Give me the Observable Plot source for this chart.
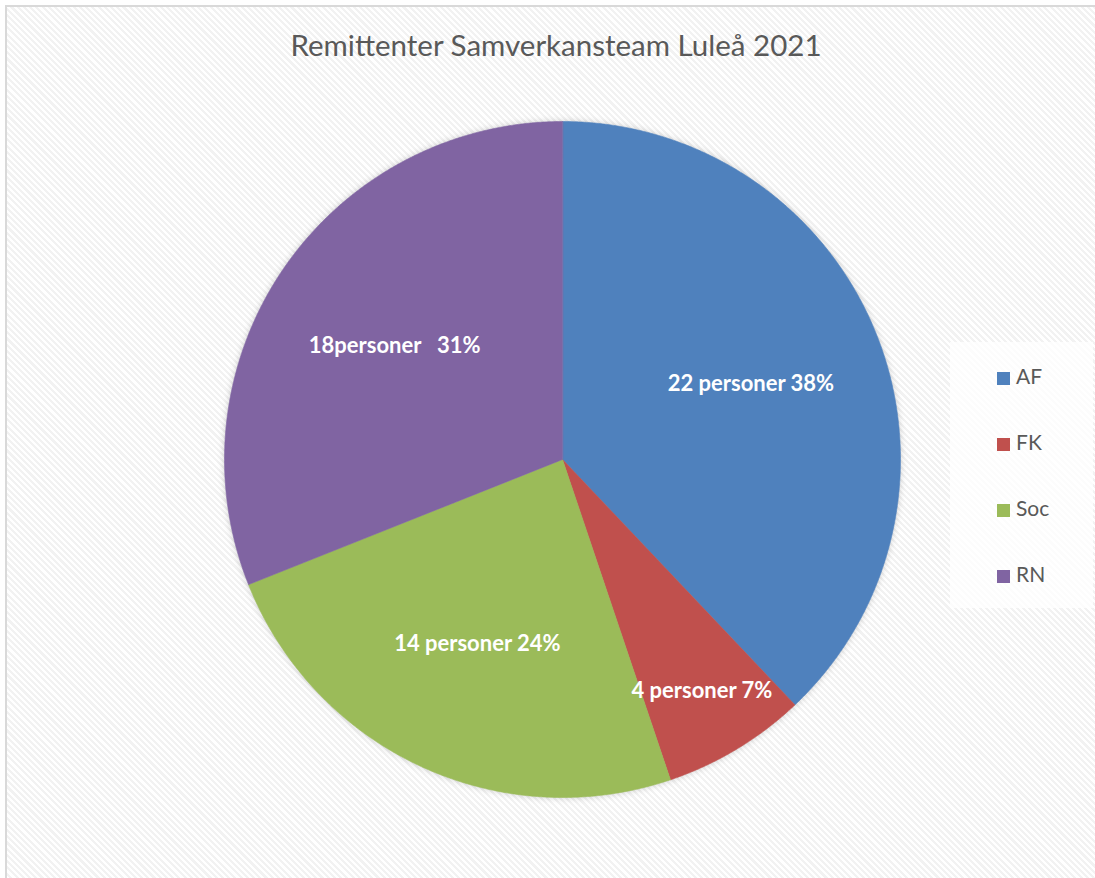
<!DOCTYPE html>
<html>
<head>
<meta charset="utf-8">
<script src="https://cdn.jsdelivr.net/npm/d3@7"></script>
<script src="https://cdn.jsdelivr.net/npm/@observablehq/plot@0.6"></script>
<style>
  html, body { margin: 0; padding: 0; width: 1095px; height: 878px; overflow: hidden; background: #fff; }
  #frame {
    position: absolute; left: 5px; top: 5px; width: 1110px; height: 890px;
    border-top: 2px solid #d9d9d9; border-left: 2px solid #d9d9d9;
    background: repeating-linear-gradient(45deg, #ffffff 0px, #ffffff 2.2px, #f2f2f2 2.2px, #f2f2f2 4.4px);
  }
  #title {
    position: absolute; left: 0; width: 1112px; top: 30px; text-align: center;
    font-family: Lato, "Open Sans", sans-serif; font-size: 29.5px; color: #595959; line-height: 1;
  }
  #chart { position: absolute; left: 0; top: 0; }
  #chart svg text { white-space: pre; }
  #chart svg g[aria-label="line"] { filter: drop-shadow(0 0 3px rgba(0,0,0,0.18)); }
  #legend {
    position: absolute; left: 950px; top: 342px; width: 143px; height: 266px;
    background: rgba(255,255,255,0.75);
    font-family: Lato, "Open Sans", sans-serif; font-size: 21px; color: #595959;
  }
  .item { position: absolute; left: 47px; height: 22px; line-height: 22px; white-space: nowrap; }
  .sw { display: inline-block; width: 13px; height: 13px; vertical-align: -1px; margin-right: 6px; }
</style>
</head>
<body>
<div id="frame"></div>
<div id="chart"></div>
<div id="title"></div>
<div id="legend"></div>
<script>
const titleText = "Remittenter Samverkansteam Luleå 2021";
const categories = ["AF", "FK", "Soc", "RN"];
const counts = [22, 4, 14, 18];
const sliceLabels = ["22 personer 38%", "4 personer 7%", "14 personer 24%", "18personer   31%"];
const colors = ["#4F81BD", "#C0504D", "#9BBB59", "#8064A2"];

document.getElementById("title").textContent = titleText;

const rows = categories.map((c, i) => ({cat: c, count: counts[i], label: sliceLabels[i]}));
const total = d3.sum(counts);
const arcs = d3.pie().sort(null).value(d => d.count)(rows);

// wedge outlines from pie angles (angle 0 at top, clockwise)
const pts = [];
for (const a of arcs) {
  pts.push({cat: a.data.cat, x: 0, y: 0});
  const n = Math.max(8, Math.ceil((a.endAngle - a.startAngle) / 0.004));
  for (let k = 0; k <= n; k++) {
    const t = a.startAngle + (a.endAngle - a.startAngle) * k / n;
    pts.push({cat: a.data.cat, x: Math.sin(t), y: Math.cos(t)});
  }
}
const labelRows = arcs.map(a => {
  const mid = (a.startAngle + a.endAngle) / 2;
  const r = a.data.count / total < 0.1 ? 0.8 : 0.6;
  return {text: a.data.label, x: r * Math.sin(mid), y: r * Math.cos(mid)};
});

const plot = Plot.plot({
  width: 1095,
  height: 878,
  margin: 0,
  x: {domain: [-1, 1], range: [224, 900], axis: null},
  y: {domain: [-1, 1], range: [797, 121], axis: null},
  color: {domain: categories, range: colors},
  style: {background: "transparent", overflow: "visible", fontFamily: "Lato, 'Open Sans', sans-serif"},
  marks: [
    Plot.line(pts, {x: "x", y: "y", z: "cat", fill: "cat", stroke: "cat", strokeWidth: 0.6, curve: "linear-closed"}),
    Plot.text(labelRows, {x: "x", y: "y", text: "text", fill: "white", fontWeight: "bold", fontSize: 22})
  ]
});
document.getElementById("chart").appendChild(plot);

const legend = document.getElementById("legend");
categories.forEach((c, i) => {
  const div = document.createElement("div");
  div.className = "item";
  div.style.top = (23 + i * 66) + "px";
  const sw = document.createElement("span");
  sw.className = "sw";
  sw.style.background = colors[i];
  div.appendChild(sw);
  div.appendChild(document.createTextNode(c));
  legend.appendChild(div);
});
</script>
</body>
</html>
